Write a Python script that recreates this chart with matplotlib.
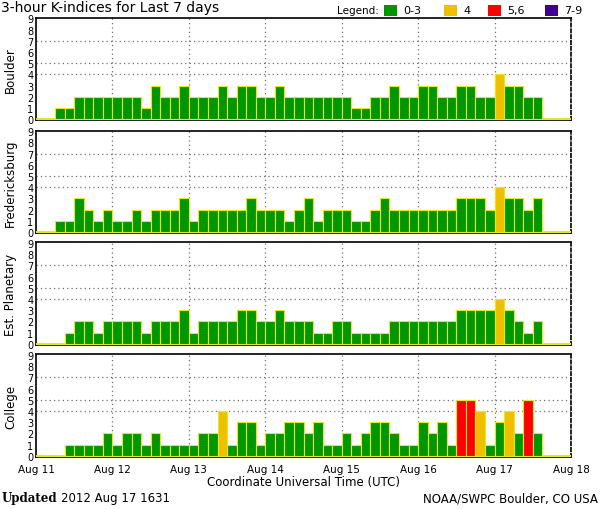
import numpy as np
import matplotlib
matplotlib.use("Agg")
import matplotlib.pyplot as plt
from matplotlib.patches import Rectangle

# K-index per 3-hour interval, Aug 11 00 UTC .. Aug 17 21 UTC (8 per day)
stations = ["Boulder", "Fredericksburg", "Est. Planetary", "College"]
boulder = [0, 0, 1, 1, 2, 2, 2, 2,  2, 2, 2, 1, 3, 2, 2, 3,  2, 2, 2, 3, 2, 3, 3, 2,
           2, 3, 2, 2, 2, 2, 2, 2,  2, 1, 1, 2, 2, 3, 2, 2,  3, 3, 2, 2, 3, 3, 2, 2,
           4, 3, 3, 2, 2, 0, 0, 0]
fredericksburg = [0, 0, 1, 1, 3, 2, 1, 2,  1, 1, 2, 1, 2, 2, 2, 3,  1, 2, 2, 2, 2, 2, 3, 2,
                  2, 2, 1, 2, 3, 1, 2, 2,  2, 1, 1, 2, 3, 2, 2, 2,  2, 2, 2, 2, 3, 3, 3, 2,
                  4, 3, 3, 2, 3, 0, 0, 0]
planetary = [0, 0, 0, 1, 2, 2, 1, 2,  2, 2, 2, 1, 2, 2, 2, 3,  1, 2, 2, 2, 2, 3, 3, 2,
             2, 3, 2, 2, 2, 1, 1, 2,  2, 1, 1, 1, 1, 2, 2, 2,  2, 2, 2, 2, 3, 3, 3, 3,
             4, 3, 2, 1, 2, 0, 0, 0]
college = [0, 0, 0, 1, 1, 1, 1, 2,  1, 2, 2, 1, 2, 1, 1, 1,  1, 2, 2, 4, 1, 3, 3, 1,
           2, 2, 3, 3, 2, 3, 1, 1,  2, 1, 2, 3, 3, 2, 1, 1,  3, 2, 3, 1, 5, 5, 4, 1,
           3, 4, 2, 5, 2, 0, 0, 0]
series = [boulder, fredericksburg, planetary, college]
day_labels = ["Aug 11", "Aug 12", "Aug 13", "Aug 14", "Aug 15", "Aug 16", "Aug 17", "Aug 18"]

GREEN, YELLOW, RED, PURPLE = "#009600", "#f0c000", "#ff0000", "#400090"
EDGE = "#e4e820"

def kcolor(k):
    if k <= 3:
        return GREEN
    if k == 4:
        return YELLOW
    if k <= 6:
        return RED
    return PURPLE

fig = plt.figure(figsize=(6.0, 5.1), dpi=100)
plt.rcParams["font.family"] = ["DejaVu Sans"]

bottoms = [0.762, 0.541, 0.3216, 0.102]
ph = 0.201
for name, vals, b in zip(stations, series, bottoms):
    ax = fig.add_axes([0.06, b, 0.8917, ph])
    vals = np.array(vals)
    x = np.arange(len(vals)) / 8.0
    ax.bar(x, np.maximum(vals, 0.12), width=1 / 8.0, align="edge",
           color=[kcolor(v) for v in vals], edgecolor=EDGE, linewidth=0.8, zorder=3)
    ax.set_xlim(0, 7)
    ax.set_ylim(-0.1, 9.05)
    for d in range(1, 7):
        ax.axvline(d, color="#707070", ls=(0, (1, 2.5)), lw=0.9, zorder=1)
    for yl in (4, 5, 7):
        ax.axhline(yl, color="#707070", ls=(0, (1, 2.5)), lw=0.9, zorder=1)
    ax.set_yticks(range(10))
    ax.tick_params(axis="y", length=0, labelsize=7, pad=2)
    ax.set_xticks(range(8))
    ax.tick_params(axis="x", length=0, labelsize=7.5, pad=5)
    if name != "College":
        ax.set_xticklabels([])
    else:
        ax.set_xticklabels(day_labels)
        ax.set_xlabel("Coordinate Universal Time (UTC)", fontsize=8.5, labelpad=1)
    ax.set_ylabel(name, fontsize=8.5, labelpad=7)
    for s in ("left", "top", "bottom"):
        ax.spines[s].set_linewidth(1.2)
    ax.spines["right"].set_linestyle((0, (2, 1.5)))
    ax.spines["right"].set_linewidth(1.2)

fig.text(0.002, 0.999, "3-hour K-indices for Last 7 days", fontsize=10, va="top", ha="left")

# legend row
leg_y = 0.978
fig.text(0.562, leg_y, "Legend:", fontsize=7.5, va="center")
for x0, col, lab in [(0.640, GREEN, "0-3"), (0.740, YELLOW, "4"),
                     (0.813, RED, "5,6"), (0.908, PURPLE, "7-9")]:
    fig.patches.append(Rectangle((x0, leg_y - 0.011), 0.022, 0.022, transform=fig.transFigure,
                                 facecolor=col, edgecolor="none"))
    fig.text(x0 + 0.032, leg_y, lab, fontsize=8, va="center")

fig.text(0.003, 0.022, "Updated", fontsize=8.5, fontweight="bold", family="DejaVu Serif", va="center")
fig.text(0.102, 0.022, "2012 Aug 17 1631", fontsize=8.5, va="center")
fig.text(0.997, 0.022, "NOAA/SWPC Boulder, CO USA", fontsize=8.5, va="center", ha="right")

fig.savefig("out.png", dpi=100)
